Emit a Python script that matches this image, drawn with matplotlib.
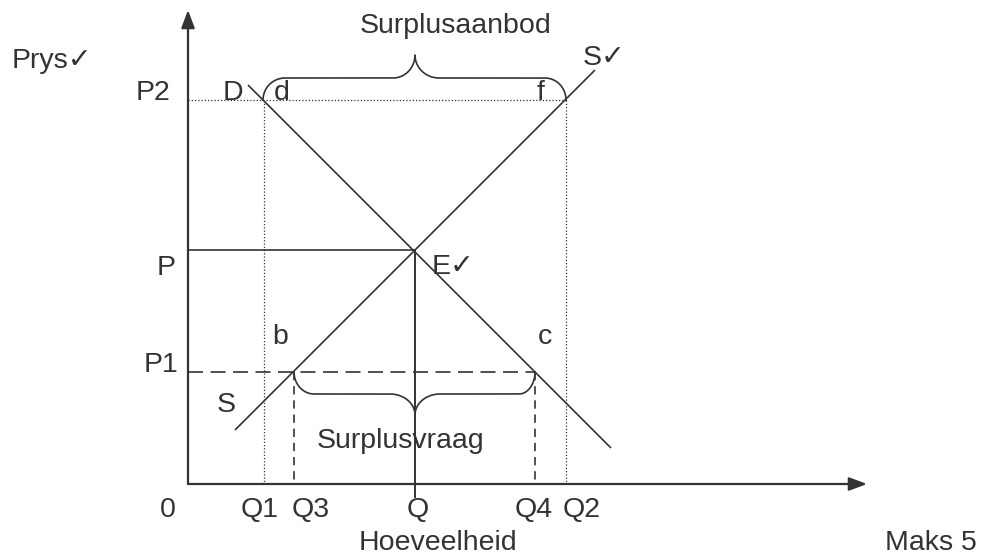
import numpy as np
import matplotlib
matplotlib.use("Agg")
import matplotlib.pyplot as plt

# ---- data (quantity / price levels) ----
q_levels = {"Q1": 76, "Q3": 106, "Q": 227, "Q4": 347, "Q2": 378}
p_levels = {"P1": 112, "P": 234, "P2": 384}
supply_x = [47, 407]
supply_y = [54, 414]
demand_x = [60, 423]
demand_y = [399, 36]
x_tick_labels = ["0", "Q1", "Q3", "Q", "Q4", "Q2"]
y_tick_labels = ["P2", "P", "P1"]

# ---- layout ----
C = "#333333"
FS = 20.5
FAM = ["Liberation Sans", "DejaVu Sans"]
plt.rcParams["font.family"] = FAM

fig = plt.figure(figsize=(9.84, 5.56), dpi=100)
ax = fig.add_axes([0, 0, 1, 1])
ax.set_xlim(-188, 984 - 188)
ax.set_ylim(484 - 556, 484)
ax.axis("off")

Q1, Q3, Q, Q4, Q2 = (q_levels[k] for k in ["Q1", "Q3", "Q", "Q4", "Q2"])
P1, P, P2 = (p_levels[k] for k in ["P1", "P", "P2"])

# axes with arrows
arrow = dict(arrowstyle="-|>,head_length=0.4,head_width=0.15", mutation_scale=27,
             lw=1.6, color=C, shrinkA=0, shrinkB=0)
ax.annotate("", xy=(0, 474), xytext=(0, 0), arrowprops=arrow)
ax.annotate("", xy=(679, 0), xytext=(0, 0), arrowprops=arrow)

# supply & demand
ax.plot(supply_x, supply_y, color=C, lw=1.2, solid_capstyle="butt")
ax.plot(demand_x, demand_y, color=C, lw=1.2, solid_capstyle="butt")

# equilibrium lines
ax.plot([0, Q], [P, P], color=C, lw=1.2)
ax.plot([Q, Q], [P, -13], color=C, lw=1.4)

# P2 dotted
dot = dict(color=C, lw=0.9, linestyle=(0, (1, 1.6)))
ax.plot([0, Q2], [P2, P2], **dot)
ax.plot([Q1, Q1], [P2, 0], **dot)
ax.plot([Q2, Q2], [P2, 0], **dot)

# P1 dashed
ax.plot([0, Q4], [P1, P1], color=C, lw=1.2, dashes=(9, 4.5))
ax.plot([Q3, Q3], [P1, 0], color=C, lw=1.2, dashes=(5, 3.5))
ax.plot([Q4, Q4], [P1, 0], color=C, lw=1.2, dashes=(5, 3.5))


def brace(x0, x1, y0, xc, d, r0, r1, rv, rcl, rcr, c):
    n = 40
    xs, ys = [], []
    t = np.linspace(np.pi, np.pi / 2, n)
    xs += list(x0 + r0 + r0 * np.cos(t)); ys += list(y0 + d * rv * np.sin(t))
    t = np.linspace(1.5 * np.pi, 2 * np.pi, n)
    yc = y0 + d * (rv + c)
    xs += list(xc - rcl + rcl * np.cos(t)); ys += list(yc + d * c * np.sin(t))
    t = np.linspace(np.pi, 1.5 * np.pi, n)
    xs += list(xc + rcr + rcr * np.cos(t)); ys += list(yc + d * c * np.sin(t))
    t = np.linspace(np.pi / 2, 0, n)
    xs += list(x1 - r1 + r1 * np.cos(t)); ys += list(y0 + d * rv * np.sin(t))
    ax.plot(xs, ys, color=C, lw=1.2)


brace(Q1 - 1, Q2, P2, Q, +1, 22, 21, 22, 22, 24, 23)
brace(Q3, Q4, P1, Q, -1, 20, 16, 22, 25, 25, 21)

# text labels
tk = dict(color=C, fontsize=FS, va="baseline")
ax.text(-176, 416, "Prys\u2713", ha="left", **tk)
ax.text(268, 451, "Surplusaanbod", ha="center", **tk)
ax.text(395, 419, "S\u2713", ha="left", **tk)
ax.text(35, 384, "D", ha="left", **tk)
ax.text(86, 384, "d", ha="left", **tk)
ax.text(349, 384, "f", ha="left", **tk)
ax.text(244, 210, "E\u2713", ha="left", **tk)
ax.text(84, 140, "b", ha="left", **tk)
ax.text(350, 140, "c", ha="left", **tk)
ax.text(29, 72, "S", ha="left", **tk)
ax.text(212, 36, "Surplusvraag", ha="center", **tk)

# price labels (right aligned left of axis)
for lab, y, xr in zip(y_tick_labels, [P2, P, P1], [-18, -12, -10]):
    ax.text(xr, y - (P - 209 if lab == "P" else 0), lab, ha="right", **tk)

# quantity labels
for lab, xc in zip(x_tick_labels, [-20, 72, 123, 230, 346, 394]):
    ax.text(xc, -33, lab, ha="center", **tk)

ax.text(250, -66, "Hoeveelheid", ha="center", **tk)
ax.text(789, -66, "Maks 5", ha="right", **tk)

fig.savefig("out.png", dpi=100)
